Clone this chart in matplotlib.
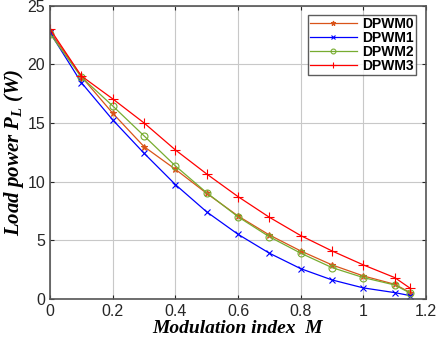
import matplotlib
matplotlib.use('Agg')
import matplotlib.pyplot as plt

m = [0, 0.1, 0.2, 0.3, 0.4, 0.5, 0.6, 0.7, 0.8, 0.9, 1.0, 1.1, 1.15]

p_dpwm0 = [22.8, 18.95, 15.83, 12.98, 11.05, 9.0, 7.07, 5.45, 4.09, 2.9, 1.96, 1.25, 0.54]
p_dpwm1 = [22.7, 18.44, 15.26, 12.42, 9.75, 7.42, 5.51, 3.9, 2.58, 1.62, 0.94, 0.54, 0.28]
p_dpwm2 = [22.6, 18.9, 16.45, 13.9, 11.34, 9.05, 7.0, 5.3, 3.9, 2.67, 1.82, 1.19, 0.49]
p_dpwm3 = [23.0, 19.0, 17.05, 15.0, 12.7, 10.65, 8.72, 6.96, 5.4, 4.09, 2.9, 1.82, 0.9]

labels = ['DPWM0', 'DPWM1', 'DPWM2', 'DPWM3']

plt.rcParams['font.family'] = ['Liberation Sans', 'DejaVu Sans']
plt.rcParams['mathtext.fontset'] = 'custom'
plt.rcParams['mathtext.it'] = 'Liberation Serif:italic:bold'
plt.rcParams['mathtext.rm'] = 'Liberation Serif:italic:bold'
plt.rcParams['mathtext.bf'] = 'Liberation Serif:italic:bold'

fig = plt.figure(figsize=(4.37, 3.46), dpi=100)
ax = fig.add_axes([0.1144, 0.136, 0.8605, 0.848])

series = [
    (p_dpwm0, '#D95319', '*', 5),
    (p_dpwm1, '#0000FF', 'x', 4.5),
    (p_dpwm2, '#77AC30', 'o', 5),
    (p_dpwm3, '#FF0000', '+', 7),
]
for (vals, col, mk, ms), lab in zip(series, labels):
    ax.plot(m, vals, color=col, lw=0.9, marker=mk, ms=ms, mew=0.8,
            mfc='none' if mk == 'o' else col, label=lab)

ax.set_xlim(0, 1.2)
ax.set_ylim(0, 25)
ax.set_xticks([0, 0.2, 0.4, 0.6, 0.8, 1, 1.2])
ax.set_xticklabels(['0', '0.2', '0.4', '0.6', '0.8', '1', '1.2'])
ax.set_yticks([0, 5, 10, 15, 20, 25])
ax.grid(True, color='#c8c8c8', lw=0.8)
ax.tick_params(direction='in', top=True, right=True, labelsize=11.5,
               colors='#262626', length=3)
for s in ax.spines.values():
    s.set_color('#555555')
    s.set_linewidth(1.2)

ax.set_xlabel('Modulation index  M', fontsize=14, fontweight='bold',
              fontstyle='italic', family='Liberation Serif', labelpad=1)
ax.set_ylabel(r'Load power $P_L$ (W)', fontsize=15, fontweight='bold',
              fontstyle='italic', family='Liberation Serif', labelpad=1)

leg = ax.legend(loc='upper right', frameon=True, fancybox=False,
                edgecolor='#333333', borderpad=0.15, labelspacing=0.0,
                handlelength=3.4, handletextpad=0.4, markerscale=0.7,
                borderaxespad=0.7, prop={'weight': 'bold', 'size': 10})
leg.get_frame().set_linewidth(1.0)

fig.savefig('out.png', dpi=100)
